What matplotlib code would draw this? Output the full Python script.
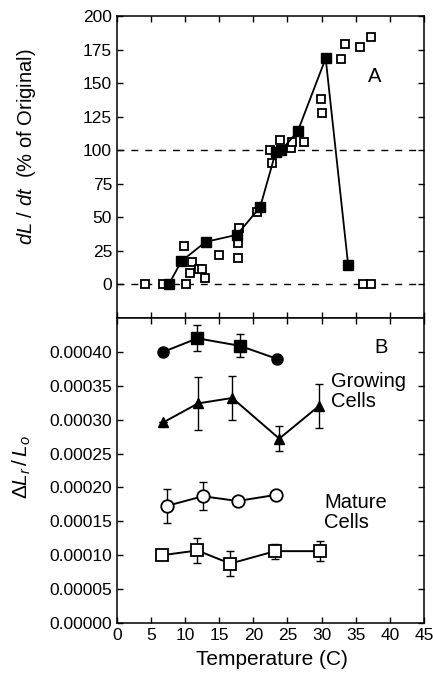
import numpy as np
import matplotlib.pyplot as plt
from matplotlib.ticker import FormatStrFormatter

plt.rcParams['font.family'] = ['Liberation Sans', 'DejaVu Sans']
plt.rcParams['mathtext.fontset'] = 'custom'
plt.rcParams['mathtext.it'] = 'Liberation Sans:italic'
plt.rcParams['mathtext.rm'] = 'Liberation Sans'

# Panel A: individual measurements (open) and mean curve (filled)
indiv_temp = [4.1, 6.7, 9.8, 10.1, 10.65, 11.05, 12.1, 12.5, 12.9, 14.9,
              17.7, 17.7, 17.9, 20.6, 22.7, 22.4, 23.9, 25.5, 25.7, 27.4,
              29.9, 30.1, 32.8, 33.4, 35.6, 37.2, 36.0, 37.2]
indiv_rate = [0, 0, 29, 0, 8.7, 16.6, 11.7, 11.7, 5, 22.3,
              19.8, 31, 42, 54, 90.5, 100, 107.8, 101.6, 105.8, 105.8,
              138, 127.6, 168, 179, 177, 184.6, 0, 0]
mean_temp = [7.6, 9.45, 13.0, 17.6, 21.0, 23.3, 24.1, 26.5, 30.6, 33.9]
mean_rate = [0, 17.3, 31.7, 37, 57.7, 99, 100, 114, 168.5, 14.4]

# Panel B: growing cells (two series) and mature cells (two series)
grow1_temp = [6.8, 11.8, 18.0, 23.4]
grow1_val = [0.000400, 0.000420, 0.000409, 0.000390]
grow1_err = [0.000005, 0.000019, 0.000017, 0.000006]
grow1_mark = ['o', 's', 's', 'o']

grow2_temp = [6.8, 11.9, 16.9, 23.8, 29.6]
grow2_val = [0.000296, 0.000324, 0.000332, 0.000272, 0.000320]
grow2_err = [0, 0.000039, 0.000032, 0.000018, 0.000033]

mat1_temp = [7.4, 12.6, 17.7, 23.3]
mat1_val = [0.000173, 0.000187, 0.000180, 0.000189]
mat1_err = [0.000025, 0.000021, 0, 0.000004]

mat2_temp = [6.6, 11.8, 16.6, 23.2, 29.7]
mat2_val = [0.000100, 0.000107, 0.0000876, 0.000106, 0.000106]
mat2_err = [0, 0.000018, 0.000018, 0.000011, 0.000015]

fig = plt.figure(figsize=(4.33, 6.73), dpi=100)
axA = fig.add_axes([0.270, 0.5275, 0.709, 0.4487])
axB = fig.add_axes([0.270, 0.0743, 0.709, 0.4532])

for ax in (axA, axB):
    ax.set_xlim(0, 45)
    ax.set_xticks(np.arange(0, 46, 5))
    ax.tick_params(direction='in', top=True, right=True, length=4,
                   width=1, labelsize=12.5)
    for s in ax.spines.values():
        s.set_linewidth(1.1)

# Panel A
axA.axhline(0, color='black', ls=(0, (5, 5)), lw=1)
axA.axhline(100, color='black', ls=(0, (5, 5)), lw=1)
axA.plot(indiv_temp, indiv_rate, 's', ms=6, mfc='white', mec='black',
         mew=1.3, zorder=3)
axA.plot(mean_temp, mean_rate, '-s', color='black', ms=7.5, lw=1.3,
         zorder=4)
axA.set_ylim(-25, 200)
axA.set_yticks(np.arange(0, 201, 25))
axA.tick_params(labelbottom=False)
axA.set_ylabel(r'$dL$ / $dt$  (% of Original)', fontsize=14.5, va='center')
axA.yaxis.set_label_coords(-0.293, 0.566)
axA.text(37.8, 155, 'A', fontsize=14.5, ha='center', va='center')

# Panel B
eb = dict(ls='none', ecolor='black', capsize=3, elinewidth=1, capthick=1)
axB.plot(grow1_temp, grow1_val, '-', color='black', lw=1.4, zorder=3)
axB.errorbar(grow1_temp, grow1_val, yerr=grow1_err, zorder=3, **eb)
for t, v, m in zip(grow1_temp, grow1_val, grow1_mark):
    axB.plot(t, v, m, color='black', ms=8, zorder=4)
axB.plot(grow2_temp, grow2_val, '-^', color='black', lw=1.4, ms=7.5,
         zorder=4)
axB.errorbar(grow2_temp, grow2_val, yerr=grow2_err, zorder=3, **eb)
axB.plot(mat1_temp, mat1_val, '-o', color='black', lw=1.4, ms=9,
         mfc='white', mew=1.3, zorder=4)
axB.errorbar(mat1_temp, mat1_val, yerr=mat1_err, zorder=3, **eb)
axB.plot(mat2_temp, mat2_val, '-s', color='black', lw=1.4, ms=8.5,
         mfc='white', mew=1.3, zorder=4)
axB.errorbar(mat2_temp, mat2_val, yerr=mat2_err, zorder=3, **eb)
axB.set_ylim(0, 0.00045)
axB.set_yticks(np.arange(0, 0.000401, 0.00005))
axB.yaxis.set_major_formatter(FormatStrFormatter('%.5f'))
axB.set_xlabel('Temperature (C)', fontsize=15)
axB.xaxis.set_label_coords(0.505, -0.09)
axB.set_ylabel(r'$\Delta L_r\,/\,L_o$', fontsize=15, va='center')
axB.yaxis.set_label_coords(-0.31, 0.51)
axB.text(38.75, 0.000407, 'B', fontsize=14.5, ha='center', va='center')
axB.text(31.4, 0.000341, 'Growing\nCells', fontsize=14.5, ha='left',
         va='center', linespacing=1.05)
axB.text(30.4, 0.000163, 'Mature\nCells', fontsize=14.5, ha='left',
         va='center', linespacing=1.05)

fig.savefig('out.png', dpi=100)
